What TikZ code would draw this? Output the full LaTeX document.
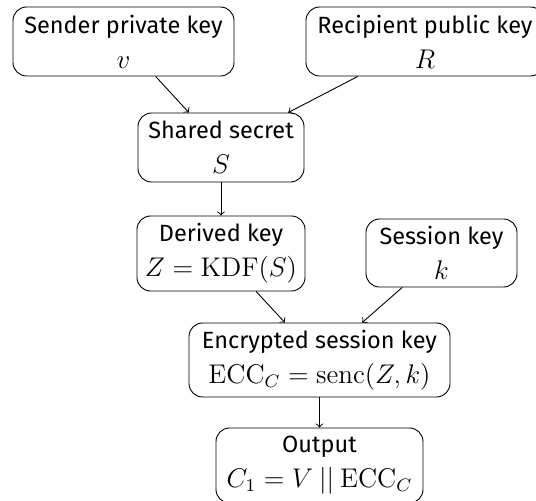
\documentclass[tikz,border=0pt]{standalone}
\usepackage[no-math]{fontspec}
\setmainfont{Fira Sans}[Scale=0.87]
\usepackage{amsmath}
\begin{document}
\begin{tikzpicture}[x=0.4444pt,y=-0.4444pt,
  box/.style={draw, rounded corners=6pt, align=center, line width=0.4pt,
    font=\fontsize{12}{15.5}\selectfont, inner sep=0pt},
  arr/.style={->, line width=0.4pt}]
\useasboundingbox (0,0) rectangle (536,501);
\clip (0,0) rectangle (536,501);
\node[box, minimum width={221*0.4444pt}, minimum height={69*0.4444pt}] (sender) at (123.5,41.5) {Sender private key\\ $v$};
\node[box, minimum width={238*0.4444pt}, minimum height={69*0.4444pt}] (recip) at (425,41.5) {Recipient public key\\ $R$};
\node[box, minimum width={166*0.4444pt}, minimum height={69*0.4444pt}] (shared) at (221,147.5) {Shared secret\\ $S$};
\node[box, minimum width={168*0.4444pt}, minimum height={75*0.4444pt}] (derived) at (221,253.5) {Derived key\\ $Z = \mathrm{KDF}(S)$};
\node[box, minimum width={151*0.4444pt}, minimum height={68*0.4444pt}] (session) at (441.5,253) {Session key\\ $k$};
\node[box, minimum width={261*0.4444pt}, minimum height={74*0.4444pt}] (enc) at (319.5,360) {Encrypted session key\\ $\mathrm{ECC}_C = \mathrm{senc}(Z,k)$};
\node[box, minimum width={207*0.4444pt}, minimum height={75*0.4444pt}] (out) at (319.5,465.5) {Output\\ $C_1 = V \mathbin{||} \mathrm{ECC}_C$};
\draw[arr] (sender) -- (shared);
\draw[arr] (recip) -- (shared);
\draw[arr] (shared) -- (derived);
\draw[arr] (derived) -- (enc);
\draw[arr] (session) -- (enc);
\draw[arr] (enc) -- (out);
\end{tikzpicture}
\end{document}
